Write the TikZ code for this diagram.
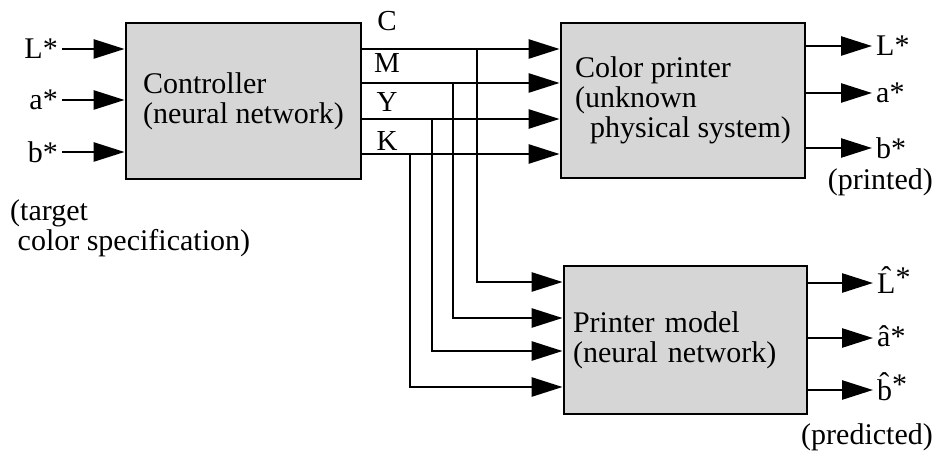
\documentclass[tikz,border=0pt]{standalone}
\usepackage{fontspec}
\setmainfont{Liberation Serif}
\usepackage{tikz}
\usetikzlibrary{arrows.meta}
% letter with a combining circumflex and a raised star
\newcommand{\hatstar}[2][0pt]{#2^^^^0302\raisebox{#1}{*}}
\tikzset{
  block/.style={
    draw=black,
    line width=2.8pt,
    fill=black!16,
    align=left,
    inner ysep=0pt,
    font=\fontsize{30}{30}\selectfont
  },
  wire/.style={line width=2.6pt,draw=black},
  flow/.style={wire,-{Triangle[length=31pt,width=19pt]}},
  tag/.style={font=\fontsize{30}{30}\selectfont,inner xsep=4pt,inner ysep=1pt},
  chan/.style={font=\fontsize{29}{29}\selectfont,inner sep=0pt},
  note/.style={font=\fontsize{30}{30}\selectfont,inner sep=0pt,align=left}
}
\begin{document}
\begin{tikzpicture}[x=1pt,y=1pt]
    \useasboundingbox (0,0) rectangle (933,450);
    \node[block,minimum width=235pt,minimum height=156pt] (ctrl) at (243.5,349) {
      Controller\\(neural network)};
    \node[block,minimum width=244pt,minimum height=155pt] (printer) at (683,349.5) {
      Color printer\\(unknown\\\hspace*{0.5em}physical system)};
    \node[block,text width=225pt,inner xsep=9pt,minimum height=148pt] (model) at (685.5,110) {
      Printer model\\(neural network)};

    % target colour in
    \node[tag,anchor=east] (inL) at (62,401) {L*};
    \node[tag,anchor=east] (ina) at (62,350) {a*};
    \node[tag,anchor=east] (inb) at (62,298) {b*};
    \draw[flow] (inL.east) -- (inL.east -| ctrl.west);
    \draw[flow] (ina.east) -- (ina.east -| ctrl.west);
    \draw[flow] (inb.east) -- (inb.east -| ctrl.west);
    \node[note,anchor=north west] (target) at (10,251) {
      (target\\\hspace*{0.25em}color specification)};

    % ink channels
    \node[chan] (labC) at (387,429) {C};
    \node[chan] (labM) at (387,387) {M};
    \node[chan] (labY) at (387,348) {Y};
    \node[chan] (labK) at (387,309) {K};
    \coordinate (outC) at (ctrl.east |- 0,401);
    \coordinate (outM) at (ctrl.east |- 0,367);
    \coordinate (outY) at (ctrl.east |- 0,331);
    \coordinate (outK) at (ctrl.east |- 0,296);
    \draw[flow] (outC) -- (outC -| printer.west);
    \draw[flow] (outM) -- (outM -| printer.west);
    \draw[flow] (outY) -- (outY -| printer.west);
    \draw[flow] (outK) -- (outK -| printer.west);

    % branches to the model
    \coordinate (jC) at (477,401);
    \coordinate (jM) at (453,367);
    \coordinate (jY) at (432,331);
    \coordinate (jK) at (410,296);
    \draw[flow] (jC) |- (model.west |- 0,168);
    \draw[flow] (jM) |- (model.west |- 0,132);
    \draw[flow] (jY) |- (model.west |- 0,99);
    \draw[flow] (jK) |- (model.west |- 0,63);

    % printed colour
    \node[tag,anchor=west] (prL) at (872,404) {L*};
    \node[tag,anchor=west] (pra) at (872,357) {a*};
    \node[tag,anchor=west] (prb) at (872,302) {b*};
    \draw[flow] (printer.east |- prL) -- (prL.west);
    \draw[flow] (printer.east |- pra) -- (pra.west);
    \draw[flow] (printer.east |- prb) -- (prb.west);
    \node[note,anchor=east] (printed) at (933,268) {(printed)};

    % predicted colour
    \node[tag,anchor=west] (mdL) at (873,170) {\hatstar[0.2em]{L}};
    \node[tag,anchor=west] (mda) at (873,114) {\hatstar{a}};
    \node[tag,anchor=west] (mdb) at (873,63) {\hatstar[0.2em]{b}};
    \draw[flow] (model.east |- 0,167) -- (mdL.west |- 0,167);
    \draw[flow] (model.east |- 0,112) -- (mda.west |- 0,112);
    \draw[flow] (model.east |- 0,60) -- (mdb.west |- 0,60);
    \node[note,anchor=east] (predicted) at (933,13) {(predicted)};
  \end{tikzpicture}
\end{document}
